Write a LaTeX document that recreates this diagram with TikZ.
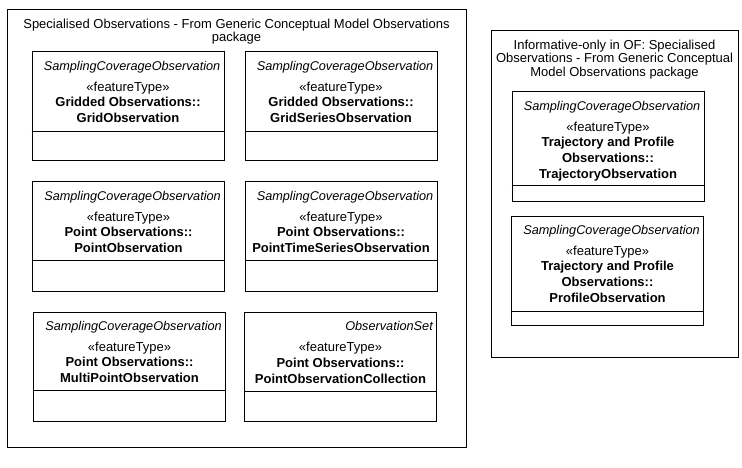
\documentclass[tikz,border=0pt]{standalone}
\usepackage{fontspec}
\setmainfont{Liberation Sans}
\usetikzlibrary{positioning}

\begin{document}
\begin{tikzpicture}[x=1pt,y=-1pt,
      font=\fontsize{13pt}{15.8pt}\selectfont,
      pkg/.style={draw,line width=1pt,inner sep=0pt},
      pkgtitle/.style={align=center,inner sep=0pt,font=\fontsize{13pt}{13.5pt}\selectfont},
      cls/.style={draw,line width=1pt,minimum width=192pt,minimum height=109pt,inner sep=0pt},
      parent/.style={font=\fontsize{12.7pt}{15.5pt}\selectfont\itshape,inner sep=0pt},
      body/.style={align=center,inner sep=0pt}]
      \useasboundingbox (0,0) rectangle (742,468);
      % packages
      \node[pkg,minimum width=459pt,minimum height=437pt] (specobs) at (236.5,228.5) {};
      \node[pkgtitle,below=9.2pt of specobs.north] (specobs-t)
        {Specialised Observations - From Generic Conceptual Model Observations\\package};
      \node[pkg,minimum width=247pt,minimum height=326pt] (infobs) at (614.5,194) {};
      \node[pkgtitle,below=9.2pt of infobs.north] (infobs-t)
        {Informative-only in OF: Specialised\\Observations - From Generic Conceptual\\Model Observations package};
      % gridded observations
      \node[cls] (grid) at (128,106.5) {};
      \node[parent,below left=9.5pt and 4pt of grid.north east] (grid-p) {SamplingCoverageObservation};
      \node[body,below=30pt of grid.north] (grid-b)
        {«featureType»\\\textbf{Gridded Observations::}\\\textbf{GridObservation}};
      \draw[line width=1pt] ([yshift=30pt]grid.south west) -- ([yshift=30pt]grid.south east);
      \node[cls] (gridser) at (341,106.5) {};
      \node[parent,below left=9.5pt and 4pt of gridser.north east] (gridser-p) {SamplingCoverageObservation};
      \node[body,below=30pt of gridser.north] (gridser-b)
        {«featureType»\\\textbf{Gridded Observations::}\\\textbf{GridSeriesObservation}};
      \draw[line width=1pt] ([yshift=30pt]gridser.south west) -- ([yshift=30pt]gridser.south east);
      % point observations
      \node[cls] (point) at (128.5,236.5) {};
      \node[parent,below left=9.5pt and 4pt of point.north east] (point-p) {SamplingCoverageObservation};
      \node[body,below=30pt of point.north] (point-b)
        {«featureType»\\\textbf{Point Observations::}\\\textbf{PointObservation}};
      \draw[line width=1pt] ([yshift=31pt]point.south west) -- ([yshift=31pt]point.south east);
      \node[cls] (pointts) at (341,236.5) {};
      \node[parent,below left=9.5pt and 4pt of pointts.north east] (pointts-p) {SamplingCoverageObservation};
      \node[body,below=30pt of pointts.north] (pointts-b)
        {«featureType»\\\textbf{Point Observations::}\\\textbf{PointTimeSeriesObservation}};
      \draw[line width=1pt] ([yshift=31pt]pointts.south west) -- ([yshift=31pt]pointts.south east);
      \node[cls] (multipt) at (129.5,366.5) {};
      \node[parent,below left=9.5pt and 4pt of multipt.north east] (multipt-p) {SamplingCoverageObservation};
      \node[body,below=30pt of multipt.north] (multipt-b)
        {«featureType»\\\textbf{Point Observations::}\\\textbf{MultiPointObservation}};
      \draw[line width=1pt] ([yshift=31pt]multipt.south west) -- ([yshift=31pt]multipt.south east);
      \node[cls] (ptcoll) at (340.5,367) {};
      \node[parent,below left=9.5pt and 4pt of ptcoll.north east] (ptcoll-p) {ObservationSet};
      \node[body,below=30pt of ptcoll.north] (ptcoll-b)
        {«featureType»\\\textbf{Point Observations::}\\\textbf{PointObservationCollection}};
      \draw[line width=1pt] ([yshift=31pt]ptcoll.south west) -- ([yshift=31pt]ptcoll.south east);
      % trajectory and profile observations
      \node[cls] (traj) at (608,146.5) {};
      \node[parent,below left=9.5pt and 4pt of traj.north east] (traj-p) {SamplingCoverageObservation};
      \node[body,below=30pt of traj.north] (traj-b)
        {«featureType»\\\textbf{Trajectory and Profile}\\\textbf{Observations::}\\\textbf{TrajectoryObservation}};
      \draw[line width=1pt] ([yshift=16pt]traj.south west) -- ([yshift=16pt]traj.south east);
      \node[cls] (profile) at (607.5,270.5) {};
      \node[parent,below left=9.5pt and 4pt of profile.north east] (profile-p) {SamplingCoverageObservation};
      \node[body,below=30pt of profile.north] (profile-b)
        {«featureType»\\\textbf{Trajectory and Profile}\\\textbf{Observations::}\\\textbf{ProfileObservation}};
      \draw[line width=1pt] ([yshift=14pt]profile.south west) -- ([yshift=14pt]profile.south east);
    \end{tikzpicture}
\end{document}
